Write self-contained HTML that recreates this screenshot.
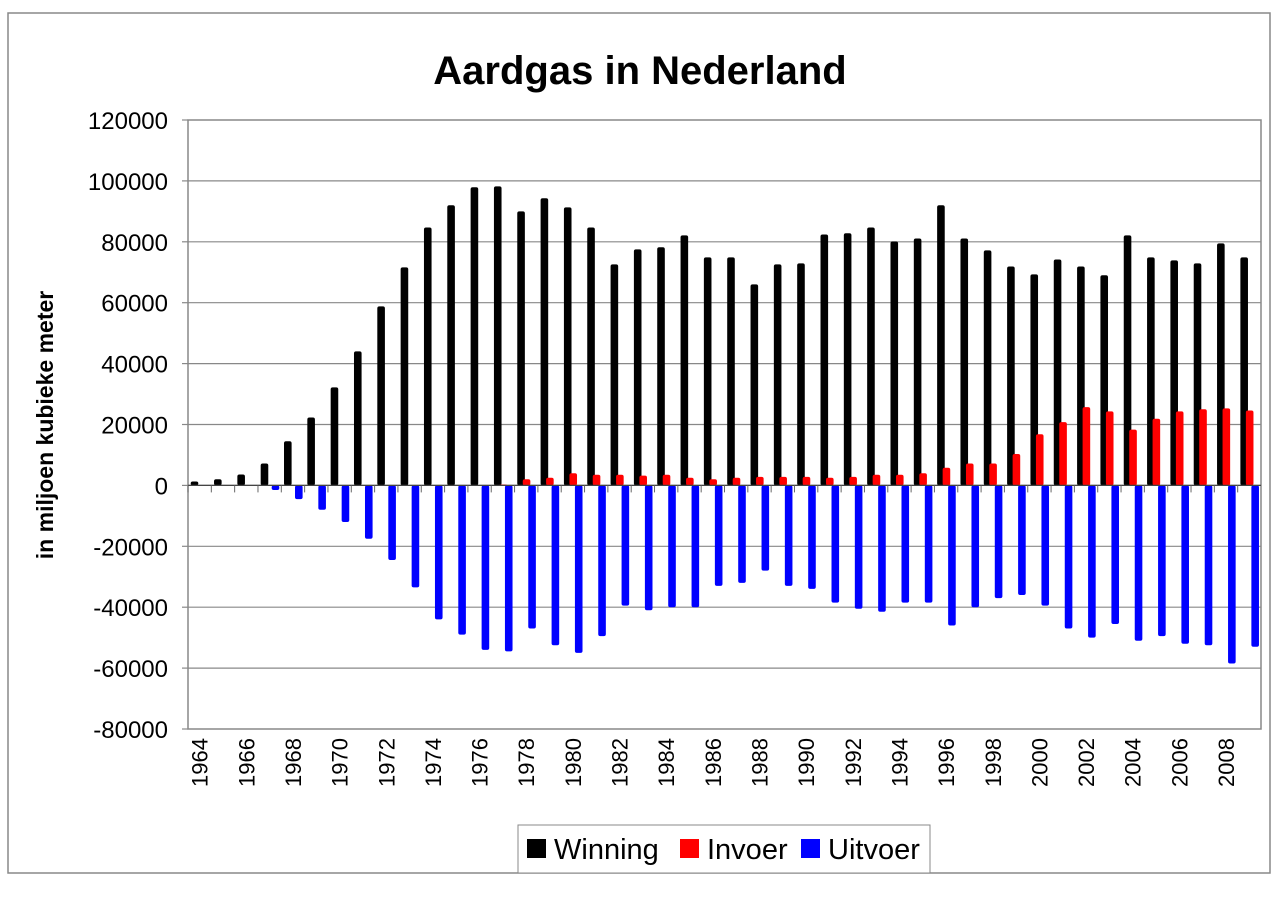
<!DOCTYPE html>
<html><head><meta charset="utf-8"><style>
body{margin:0;background:#fff;width:1280px;height:905px;overflow:hidden;font-family:"Liberation Sans",Arial,sans-serif}
</style></head><body>
<svg id="chart" width="1280" height="905" xmlns="http://www.w3.org/2000/svg" font-family="Liberation Sans, Arial, sans-serif">
<rect x="8" y="13" width="1262" height="860" fill="#fff" stroke="#888" stroke-width="1.5"/>
<text x="640" y="84" text-anchor="middle" font-size="40" font-weight="bold">Aardgas in Nederland</text>
<rect x="188" y="120" width="1073" height="609" fill="none" stroke="#888" stroke-width="1.5"/>
<g id="grid"></g><g id="bars"></g><g id="axes"></g>
<text transform="translate(53,425) rotate(-90)" text-anchor="middle" font-size="23" font-weight="bold">in miljoen kubieke meter</text>
<g>
<rect x="518" y="825" width="412" height="48" fill="#fff" stroke="#888" stroke-width="1"/>
<rect x="527" y="839" width="19" height="19" fill="#000"/>
<text x="554" y="859" font-size="29">Winning</text>
<rect x="680" y="839" width="19" height="19" fill="#f00"/>
<text x="707" y="859" font-size="29">Invoer</text>
<rect x="801" y="839" width="19" height="19" fill="#00f"/>
<text x="828" y="859" font-size="29">Uitvoer</text>
</g>
</svg>
<script>
const years=[];for(let y=1964;y<=2009;y++)years.push(y);
const winning=[1300,2000,3600,7200,14500,22300,32200,44000,58800,71600,84700,92000,97900,98200,90000,94300,91300,84700,72600,77500,78200,82100,74900,74900,66000,72600,72900,82400,82800,84700,80100,81100,92000,81100,77200,71900,69300,74200,71900,69000,82100,74900,73900,72900,79500,74900];
const invoer=[0,0,0,0,0,0,0,0,0,0,0,0,0,300,2000,2500,4000,3500,3500,3200,3500,2500,2000,2500,2800,2800,2800,2500,2800,3500,3500,4000,5800,7200,7200,10300,16800,20800,25700,24300,18300,21900,24300,25000,25300,24600];
const uitvoer=[0,0,0,-1500,-4500,-8000,-12000,-17500,-24500,-33500,-44000,-49000,-54000,-54500,-47000,-52500,-55000,-49500,-39500,-41000,-40000,-40000,-33000,-32000,-28000,-33000,-34000,-38500,-40500,-41500,-38500,-38500,-46000,-40000,-37000,-36000,-39500,-47000,-50000,-45500,-51000,-49500,-52000,-52500,-58500,-53000];
const yTicks=[-80000,-60000,-40000,-20000,0,20000,40000,60000,80000,100000,120000];
const NS="http://www.w3.org/2000/svg";
const X0=188,X1=1261,Y0=729,Y1=120,VMIN=-80000,VMAX=120000;
const cw=(X1-X0)/years.length;
function y(v){return Y0-(v-VMIN)/(VMAX-VMIN)*(Y0-Y1);}
function x(i){return X0+i*cw;}
function mk(tag,attrs,parent){const e=document.createElementNS(NS,tag);for(const k in attrs)e.setAttribute(k,attrs[k]);parent.appendChild(e);return e;}
const grid=document.getElementById('grid'),bars=document.getElementById('bars'),axes=document.getElementById('axes');
yTicks.forEach(t=>{
  if(t!==VMIN&&t!==VMAX){const l=mk('line',{x1:X0,x2:X1,y1:y(t),y2:y(t),stroke:'#888','stroke-width':1.2},grid);
  
  }
  const tk=mk('line',{x1:X0-6,x2:X0,y1:y(t),y2:y(t),stroke:'#888','stroke-width':1.2},axes);
  
  
  const tx=mk('text',{x:168,y:y(t)+9,'text-anchor':'end','font-size':24},axes);
  tx.textContent=t;
  
  
});
const series=[[winning,'#000',2.7,'bar-winning'],[invoer,'#f00',8.2,'bar-invoer'],[uitvoer,'#00f',13.7,'bar-uitvoer']];
series.forEach(([vals,col,off,name])=>{
  vals.forEach((v,i)=>{
    if(v===0)return;
    const top=Math.min(y(v),y(0)),h=Math.abs(y(v)-y(0));
    const r=mk('rect',{x:x(i)+off,y:top,width:7.6,height:Math.max(h,1.5),fill:col,rx:2},bars);
    
    
  });
});
const zl=mk('line',{x1:X0,x2:X1,y1:y(0),y2:y(0),stroke:'#444','stroke-width':1.2},axes);


years.forEach((yr,i)=>{
  const tk=mk('line',{x1:x(i),x2:x(i),y1:y(0),y2:y(0)+7,stroke:'#666','stroke-width':1},axes);
  
  
  if(i%2===0){
    const cx=x(i)+cw/2+8;
    const t=mk('text',{transform:`translate(${cx},738) rotate(-90)`,'text-anchor':'end','font-size':22},axes);
    t.textContent=yr;
    
    
  }
});
</script>
</body></html>
